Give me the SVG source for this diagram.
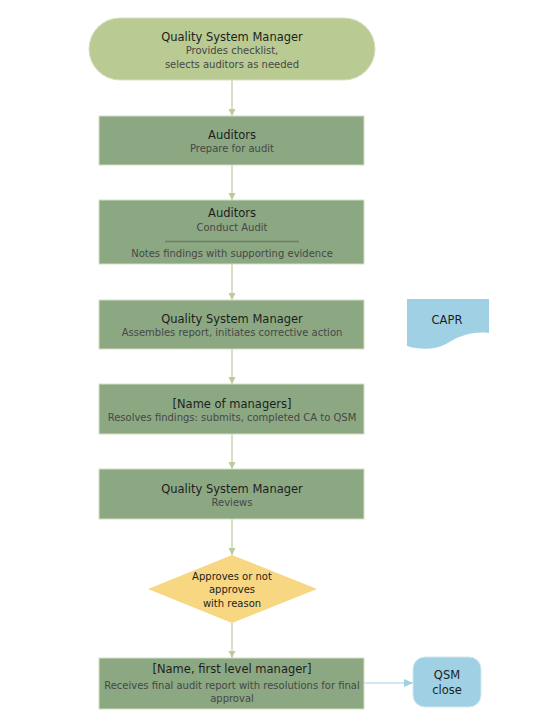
<svg xmlns="http://www.w3.org/2000/svg" width="554" height="723" viewBox="0 0 554 723">
<style>
.box{fill:#8ba883;stroke:#d3dfc3;stroke-width:1}
.t{font-family:"DejaVu Sans",sans-serif;font-size:11.5px;fill:#1e1e1e;text-anchor:middle}
.s{font-family:"DejaVu Sans",sans-serif;font-size:10px;fill:#474747;text-anchor:middle}
.d{font-family:"DejaVu Sans",sans-serif;font-size:10px;fill:#1e1e1e;text-anchor:middle}
.c{fill:none;stroke:#bccb99;stroke-width:1.2}
.cb{fill:none;stroke:#9fcfe2;stroke-width:1.2}
</style>
<defs>
<marker id="ag" markerWidth="8" markerHeight="8" refX="7" refY="4" orient="auto" markerUnits="userSpaceOnUse"><path d="M0,0.5 L7,4 L0,7.5 Z" fill="#bccb99"/></marker>
<marker id="ab" markerWidth="10" markerHeight="10" refX="9" refY="5" orient="auto" markerUnits="userSpaceOnUse"><path d="M0,1 L9,5 L0,9 Z" fill="#9fcfe2"/></marker>
</defs>
<rect width="554" height="723" fill="#ffffff"/>
<g id="connectors">
<line class="c" x1="232" y1="80" x2="232" y2="116" marker-end="url(#ag)"/>
<line class="c" x1="232" y1="165" x2="232" y2="200" marker-end="url(#ag)"/>
<line class="c" x1="232" y1="264" x2="232" y2="300" marker-end="url(#ag)"/>
<line class="c" x1="232" y1="349" x2="232" y2="384" marker-end="url(#ag)"/>
<line class="c" x1="232" y1="434" x2="232" y2="469" marker-end="url(#ag)"/>
<line class="c" x1="232" y1="519" x2="232" y2="555" marker-end="url(#ag)"/>
<line class="c" x1="232" y1="623" x2="232" y2="658" marker-end="url(#ag)"/>
<line class="cb" x1="364" y1="683" x2="413" y2="683" marker-end="url(#ab)"/>
</g>
<g id="start">
<rect x="89" y="18" width="286" height="62" rx="31" ry="31" fill="#b9ca92" stroke="#d6e0c0"/>
<text class="t" x="232" y="41">Quality System Manager</text>
<text class="s" x="232" y="54">Provides checklist,</text>
<text class="s" x="232" y="68">selects auditors as needed</text>
</g>
<g id="prepare">
<rect class="box" x="99" y="116" width="265" height="49"/>
<text class="t" x="232" y="139">Auditors</text>
<text class="s" x="232" y="152">Prepare for audit</text>
</g>
<g id="conduct">
<rect class="box" x="99" y="200" width="265" height="64"/>
<text class="t" x="232" y="217">Auditors</text>
<text class="s" x="232" y="231">Conduct Audit</text>
<line x1="165" y1="241.5" x2="299" y2="241.5" stroke="#6b7e62" stroke-width="1.5"/>
<text class="s" x="232" y="257">Notes findings with supporting evidence</text>
</g>
<g id="assemble">
<rect class="box" x="99" y="300" width="265" height="49"/>
<text class="t" x="232" y="323">Quality System Manager</text>
<text class="s" x="232" y="336">Assembles report, initiates corrective action</text>
</g>
<g id="capr">
<path d="M407,299 H489 V333 C470,331 458,337 446,344 C434,350 420,350 407,346 Z" fill="#9fd0e3"/>
<text class="t" x="447" y="324">CAPR</text>
</g>
<g id="resolve">
<rect class="box" x="99" y="384" width="265" height="50"/>
<text class="t" x="232" y="408">[Name of managers]</text>
<text class="s" x="232" y="421">Resolves findings: submits, completed CA to QSM</text>
</g>
<g id="review">
<rect class="box" x="99" y="469" width="265" height="50"/>
<text class="t" x="232" y="493">Quality System Manager</text>
<text class="s" x="232" y="506">Reviews</text>
</g>
<g id="decision">
<polygon points="232,555 317,589 232,623 148,589" fill="#f8d783"/>
<text class="d" x="232" y="580">Approves or not</text>
<text class="d" x="232" y="593">approves</text>
<text class="d" x="232" y="607">with reason</text>
</g>
<g id="final">
<rect class="box" x="99" y="658" width="265" height="51"/>
<text class="t" x="232" y="673">[Name, first level manager]</text>
<text class="s" x="232" y="689">Receives final audit report with resolutions for final</text>
<text class="s" x="232" y="702">approval</text>
</g>
<g id="close">
<rect x="413" y="657" width="68" height="50" rx="12" ry="12" fill="#9fd0e3" stroke="#d2e9f2"/>
<text class="t" x="447" y="679">QSM</text>
<text class="t" x="447" y="694">close</text>
</g>
</svg>
